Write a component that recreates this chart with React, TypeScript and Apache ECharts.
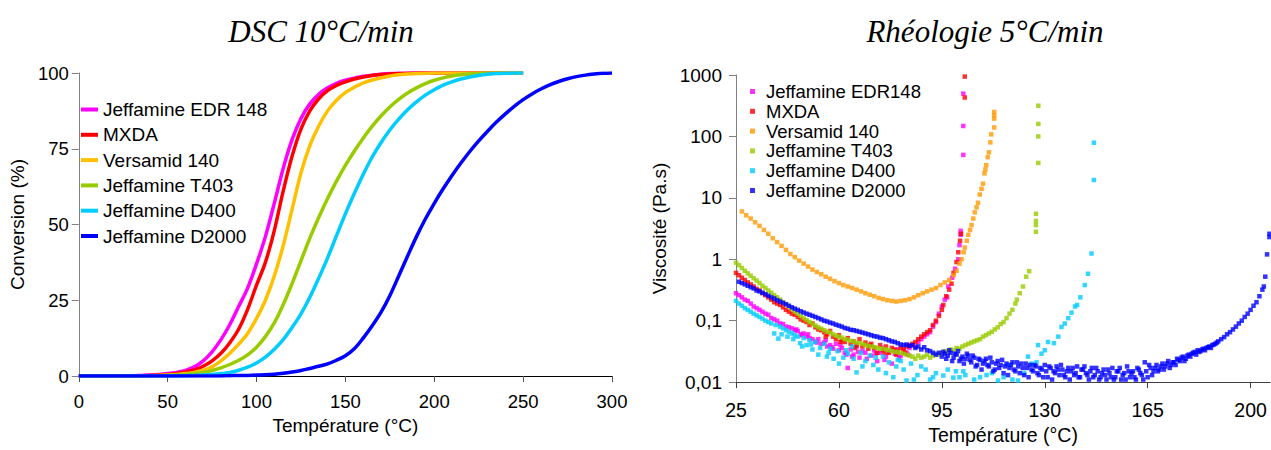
import React, { useEffect, useRef } from "react";
import * as echarts from "echarts";

// ---------- DSC (left) ----------
const dscNames = ["Jeffamine EDR 148", "MXDA", "Versamid 140", "Jeffamine T403", "Jeffamine D400", "Jeffamine D2000"];
const dscColors = ["#FF00FF", "#FF0000", "#FFC000", "#99CC00", "#00CCFF", "#0000FF"];
const dscTemps = [0, 5, 10, 15, 20, 25, 30, 35, 40, 45, 50, 55, 60, 65, 70, 75, 80, 85, 90, 95, 100, 105, 110, 115, 120, 125, 130, 135, 140, 145, 150, 155, 160, 165, 170, 175, 180, 185, 190, 195, 200, 205, 210, 215, 220, 225, 230, 235, 240, 245, 250, 255, 260, 265, 270, 275, 280, 285, 290, 295, 300];
const dscEDR148 = [0, 0, 0, 0, 0, 0.1, 0.1, 0.2, 0.3, 0.5, 0.8, 1.2, 1.8, 3, 5, 8, 12, 17, 23, 29, 37, 46, 57, 68.5, 78, 85, 89.8, 93, 95.1, 96.6, 97.6, 98.3, 98.9, 99.3, 99.6, 99.8, 99.9, 99.95, 100, 100, 100, 100, 100, 100, 100, 100, 100, 100, 100, 100, 100];
const dscMXDA = [0, 0, 0, 0, 0, 0.05, 0.1, 0.1, 0.2, 0.3, 0.5, 0.8, 1.3, 2, 3.2, 5, 7.5, 11, 15.5, 22, 30, 37.5, 48, 61, 72.5, 81.5, 87.5, 91.5, 94.2, 95.9, 97.1, 98, 98.7, 99.2, 99.5, 99.7, 99.8, 99.9, 100, 100, 100, 100, 100, 100, 100, 100, 100, 100, 100, 100, 100];
const dscVersamid = [0, 0, 0, 0, 0, 0, 0, 0, 0.1, 0.2, 0.3, 0.5, 0.8, 1.2, 1.9, 3, 5, 7.5, 10.5, 14, 19, 25, 33, 43, 55, 67, 76, 82.5, 87.5, 91, 93.5, 95.3, 96.7, 97.7, 98.4, 99, 99.4, 99.7, 99.8, 99.9, 100, 100, 100, 100, 100, 100, 100, 100, 100, 100, 100];
const dscT403 = [0, 0, 0, 0, 0, 0, 0, 0, 0, 0.1, 0.2, 0.3, 0.5, 0.8, 1.2, 1.8, 2.7, 3.8, 5.2, 7, 9.5, 13, 17.5, 23.5, 30.5, 38, 45.5, 52.3, 58.6, 64.3, 69.5, 74.2, 78.5, 82.4, 85.8, 88.8, 91.3, 93.4, 95.1, 96.5, 97.6, 98.4, 99, 99.4, 99.7, 99.85, 99.95, 100, 100, 100, 100];
const dscD400 = [0, 0, 0, 0, 0, 0, 0, 0, 0, 0, 0, 0, 0.1, 0.2, 0.3, 0.5, 0.8, 1.2, 1.9, 2.9, 4.3, 6.2, 8.8, 12, 16, 20.5, 26, 32.3, 39, 46.3, 53.5, 60.2, 66.5, 72.2, 77, 81.2, 84.8, 87.9, 90.5, 92.7, 94.5, 96, 97.1, 98, 98.7, 99.2, 99.55, 99.8, 99.92, 99.98, 100];
const dscD2000 = [0, 0, 0, 0, 0, 0, 0, 0, 0, 0, 0, 0, 0, 0, 0, 0, 0, 0.1, 0.15, 0.2, 0.3, 0.4, 0.6, 0.9, 1.3, 1.8, 2.5, 3.2, 4, 5.2, 6.7, 9, 12.5, 16.5, 21, 26.5, 33, 39.6, 46, 51.8, 57, 61.8, 66.2, 70.3, 74.1, 77.6, 80.8, 83.8, 86.5, 89, 91.2, 93.1, 94.7, 96.1, 97.2, 98.1, 98.8, 99.3, 99.65, 99.9, 100];
const dscXTicks = { min: 0, max: 300, interval: 50 };
const dscYTicks = { min: 0, max: 100, interval: 25 };

// ---------- Rheology (right) ----------
const rheoNames = ["Jeffamine EDR148", "MXDA", "Versamid 140", "Jeffamine T403", "Jeffamine D400", "Jeffamine D2000"];
const rheoColors = ["#FF00FF", "#FF0000", "#FF9900", "#99CC00", "#00CCFF", "#0000FF"];
const rheoXTicks = [25, 60, 95, 130, 165, 200];

const rheoEDR148 = [[25, 0.28], [26, 0.26], [27, 0.24], [28, 0.22], [29, 0.21], [30, 0.19], [31, 0.17], [32, 0.16], [33, 0.15], [34, 0.14], [35, 0.13], [36, 0.125], [37, 0.11], [38, 0.105], [39, 0.1], [40, 0.09], [41, 0.088], [42, 0.08], [43, 0.078], [44, 0.075], [45, 0.07], [46, 0.068], [47, 0.06], [48, 0.062], [49, 0.055], [50, 0.052], [51, 0.05], [52, 0.046], [53, 0.05], [54, 0.042], [55, 0.044], [56, 0.038], [57, 0.04], [58, 0.035], [59, 0.042], [60, 0.033], [61, 0.036], [62, 0.03], [63, 0.017], [64, 0.034], [65, 0.028], [66, 0.038], [67, 0.025], [68, 0.032], [69, 0.03], [70, 0.04], [71, 0.027], [72, 0.033], [73, 0.022], [74, 0.03], [75, 0.036], [76, 0.026], [77, 0.031], [78, 0.02], [79, 0.029], [80, 0.034], [81, 0.027], [82, 0.032], [83, 0.03], [84, 0.036], [85, 0.04], [86, 0.038], [87, 0.045], [88, 0.05], [89, 0.055], [90, 0.06], [91, 0.065], [92, 0.08], [93, 0.095], [94, 0.13], [95, 0.17], [96, 0.22], [96.8, 0.24], [97.2, 0.36], [98.5, 0.5], [99.5, 0.7], [100.6, 1.0], [101, 1.7], [101.4, 2.5], [101.4, 2.9], [102.3, 50], [102.3, 148], [102.3, 497],
  [45.5, 0.072], [47.5, 0.058], [49.5, 0.06], [52.5, 0.044], [55.5, 0.048], [57.5, 0.037], [60.5, 0.04], [62.5, 0.028], [64.5, 0.026], [66.5, 0.031], [69.5, 0.024], [72.5, 0.029], [75.5, 0.023], [78.5, 0.033], [80.5, 0.025], [83.5, 0.028]];

const rheoMXDA = [[25, 0.6], [26, 0.55], [27, 0.5], [28, 0.46], [29, 0.42], [30, 0.39], [31, 0.36], [32, 0.33], [33, 0.31], [34, 0.28], [35, 0.26], [36, 0.24], [37, 0.22], [38, 0.2], [39, 0.19], [40, 0.18], [41, 0.165], [42, 0.15], [43, 0.14], [44, 0.13], [45, 0.125], [46, 0.115], [47, 0.105], [48, 0.1], [49, 0.095], [50, 0.085], [51, 0.09], [52, 0.078], [53, 0.072], [54, 0.07], [55, 0.065], [56, 0.06], [57, 0.068], [58, 0.055], [59, 0.05], [60, 0.058], [61, 0.048], [62, 0.045], [63, 0.052], [64, 0.042], [65, 0.046], [66, 0.04], [67, 0.05], [68, 0.038], [69, 0.044], [70, 0.035], [71, 0.042], [72, 0.036], [73, 0.03], [74, 0.04], [75, 0.033], [76, 0.038], [77, 0.03], [78, 0.036], [79, 0.034], [80, 0.032], [81, 0.036], [82, 0.034], [83, 0.038], [84, 0.04], [85, 0.042], [86, 0.045], [87, 0.05], [88, 0.055], [89, 0.06], [90, 0.065], [91, 0.07], [92, 0.085], [93, 0.1], [94, 0.12], [95, 0.15], [95.5, 0.18], [96.5, 0.25], [97.5, 0.32], [98.3, 0.4], [99, 0.6], [100, 0.9], [100.6, 1.3], [101.2, 2.0], [101.5, 2.6], [102.8, 430], [102.8, 942],
  [55.5, 0.055], [60.5, 0.045], [65.5, 0.036], [70.5, 0.04], [75.5, 0.03], [79.5, 0.028], [82.5, 0.03]];

const rheoVersamid = [[27, 6.0], [28.5, 5.2], [30, 4.6], [31.5, 4.0], [33, 3.5], [34.5, 3.0], [36, 2.6], [37.5, 2.2], [39, 1.9], [40.5, 1.65], [42, 1.42], [43.5, 1.22], [45, 1.08], [46.5, 0.95], [48, 0.85], [49.5, 0.76], [51, 0.68], [52.5, 0.62], [54, 0.57], [55.5, 0.52], [57, 0.48], [58.5, 0.44], [60, 0.41], [61.5, 0.38], [63, 0.36], [64.5, 0.34], [66, 0.32], [67.5, 0.3], [69, 0.28], [70.5, 0.265], [72, 0.25], [73.5, 0.235], [75, 0.225], [76.5, 0.215], [78, 0.21], [79.5, 0.205], [81, 0.21], [82.5, 0.215], [84, 0.225], [85.5, 0.24], [87, 0.26], [88.5, 0.28], [90, 0.3], [91.5, 0.32], [93, 0.34], [94.5, 0.38], [96, 0.42], [97.5, 0.46], [99, 0.55], [100, 0.65], [101, 0.85], [101.7, 1.0], [102.4, 1.3], [102.8, 1.55], [103.5, 2.0], [104, 2.5], [104.6, 3.0], [105.1, 3.6], [105.7, 4.6], [106.2, 5.8], [106.8, 7.0], [107.3, 8.3], [107.9, 11.3], [108.5, 14], [109, 17], [109.5, 25], [109.8, 29], [110.1, 34], [110.6, 46], [111, 55], [111.5, 80], [111.8, 108], [112.8, 140], [112.8, 195], [112.8, 220], [112.8, 250]];

const rheoT403 = [[25, 0.88], [26, 0.8], [27, 0.72], [28, 0.65], [29, 0.59], [30, 0.54], [31, 0.49], [32, 0.45], [33, 0.41], [34, 0.37], [35, 0.34], [36, 0.31], [37, 0.285], [38, 0.26], [39, 0.24], [40, 0.22], [41, 0.2], [42, 0.185], [43, 0.17], [44, 0.155], [45, 0.14], [46, 0.13], [47, 0.12], [48, 0.11], [49, 0.102], [50, 0.095], [51, 0.089], [52, 0.083], [53, 0.078], [54, 0.074], [55, 0.07], [56, 0.066], [57, 0.064], [58, 0.06], [59, 0.057], [60, 0.055], [61, 0.053], [62, 0.05], [63, 0.049], [64, 0.047], [65, 0.046], [66, 0.044], [67, 0.043], [68, 0.042], [69, 0.04], [70, 0.039], [71, 0.038], [72, 0.037], [73, 0.036], [74, 0.035], [75, 0.035], [76, 0.034], [77, 0.033], [78, 0.032], [79, 0.031], [80, 0.031], [81, 0.03], [82, 0.029], [83, 0.028], [84, 0.027], [85, 0.026], [86, 0.024], [87, 0.027], [88, 0.025], [89, 0.026], [90, 0.028], [91, 0.025], [92, 0.027], [93, 0.029], [94, 0.028], [95, 0.03], [96, 0.032], [97, 0.031], [98, 0.034], [99, 0.033], [100, 0.036], [101, 0.035], [102, 0.038], [103, 0.04], [104, 0.042], [105, 0.044], [106, 0.046], [107, 0.048], [108, 0.05], [109, 0.055], [110, 0.058], [111, 0.062], [112, 0.066], [113, 0.072], [114, 0.078], [115, 0.088], [116, 0.095], [117, 0.11], [118, 0.13], [119, 0.15], [120, 0.19], [120.5, 0.22], [121.5, 0.28], [122.6, 0.36], [123.7, 0.52], [124.7, 0.64], [127, 2.8], [127, 3.6], [127, 4.2], [127, 5.5], [127.8, 37], [127.8, 100], [127.8, 160], [127.8, 316]];

const rheoD400 = [[25, 0.21], [26, 0.19], [27, 0.175], [28, 0.16], [29, 0.15], [30, 0.14], [31, 0.13], [32, 0.122], [33, 0.115], [34, 0.108], [35, 0.1], [36, 0.095], [37, 0.09], [38, 0.062], [38.5, 0.085], [39.4, 0.051], [40, 0.08], [41, 0.075], [42, 0.07], [43, 0.066], [44, 0.062], [45, 0.058], [46, 0.055], [46.8, 0.043], [48, 0.052], [49, 0.04], [50, 0.048], [51, 0.034], [52, 0.045], [53.6, 0.036], [55, 0.042], [55.9, 0.026], [57, 0.035], [58.2, 0.024], [59.5, 0.032], [61.5, 0.025], [63, 0.029], [64.5, 0.038], [66, 0.0144], [67.5, 0.03], [69, 0.022], [70.5, 0.027], [71.7, 0.019], [73.4, 0.016], [75, 0.026], [77, 0.021], [78.5, 0.012], [80, 0.023], [82, 0.016], [83, 0.0106], [84.5, 0.02], [86.7, 0.013], [88, 0.018], [91, 0.011], [93, 0.014], [95.5, 0.0128], [98.9, 0.0118], [99.8, 0.015], [102.3, 0.015], [103, 0.013], [106, 0.011], [110.2, 0.013], [114.1, 0.0106], [117.5, 0.019], [120.9, 0.0106], [124.3, 0.026], [127.2, 0.021], [127.7, 0.04], [128.9, 0.029], [130, 0.033], [131.1, 0.045], [133.1, 0.043], [134.6, 0.055], [135.7, 0.079], [136.8, 0.09], [138, 0.11], [139.1, 0.135], [140.3, 0.17], [141, 0.18], [142.1, 0.24], [143.6, 0.38], [144.7, 0.58], [145.9, 1.24], [146.7, 19.5], [146.7, 79],
  [40.5, 0.06], [42.5, 0.055], [44.5, 0.05], [47.5, 0.038], [50.5, 0.041], [53, 0.028], [56.5, 0.03], [60, 0.02], [62.5, 0.033], [65, 0.024], [68, 0.018], [72.5, 0.025], [76, 0.014], [79.5, 0.018], [81, 0.022], [85.5, 0.011], [89.5, 0.016], [92, 0.012], [97, 0.016], [101, 0.012], [108, 0.012], [112, 0.014], [116, 0.012], [119, 0.011], [123, 0.014], [125.5, 0.02]];

const rheoD2000 = [[26, 0.43], [27, 0.41], [28, 0.39], [29, 0.37], [30, 0.35], [31, 0.335], [32, 0.31], [33, 0.3], [34, 0.285], [35, 0.27], [36, 0.255], [37, 0.24], [38, 0.23], [39, 0.215], [40, 0.205], [41, 0.195], [42, 0.185], [43, 0.175], [44, 0.165], [45, 0.157], [46, 0.15], [47, 0.142], [48, 0.136], [49, 0.13], [50, 0.125], [51, 0.12], [52, 0.115], [53, 0.11], [54, 0.105], [55, 0.1], [56, 0.097], [57, 0.093], [58, 0.09], [59, 0.086], [60, 0.083], [61, 0.08], [62, 0.076], [63, 0.074], [64, 0.071], [65, 0.07], [66, 0.068], [67, 0.066], [68, 0.064], [69, 0.062], [70, 0.06], [71, 0.058], [72, 0.056], [73, 0.055], [74, 0.053], [75, 0.052], [76, 0.05], [77, 0.048], [78, 0.046], [79, 0.045], [80, 0.043], [81, 0.041], [82, 0.04], [83, 0.041], [84, 0.039], [85, 0.04], [86, 0.036], [87, 0.038], [88, 0.034], [89, 0.037], [90, 0.033], [91, 0.032], [92, 0.03], [93, 0.028], [94, 0.03], [95, 0.026], [96, 0.029], [97, 0.027], [98, 0.03], [99, 0.025], [100, 0.028], [101, 0.022], [102, 0.026], [103, 0.024], [104, 0.027], [105, 0.021], [106, 0.025], [107, 0.019], [108, 0.023], [109, 0.02], [110, 0.024], [111, 0.018], [112, 0.021], [113, 0.016], [114, 0.022], [115, 0.019], [116, 0.014], [117, 0.02], [118, 0.017], [119, 0.021], [120, 0.015], [121, 0.018], [122, 0.02], [123, 0.013], [124, 0.017], [125, 0.019], [126, 0.015], [127, 0.018], [128, 0.013], [129, 0.016], [130, 0.019], [131, 0.012], [132, 0.017], [133, 0.015], [134, 0.018], [135, 0.013], [136, 0.016], [137, 0.012], [138, 0.017], [139, 0.015], [140, 0.013], [141, 0.018], [142, 0.012], [143, 0.016], [144, 0.014], [145, 0.011], [146, 0.017], [147, 0.013], [148, 0.015], [149, 0.012], [150, 0.016], [151, 0.011], [152, 0.014], [153, 0.017], [154, 0.012], [155, 0.015], [156, 0.011], [157, 0.014], [158, 0.018], [159, 0.012], [160, 0.015], [161, 0.011], [162, 0.016], [163, 0.013], [164, 0.021], [165, 0.012], [166, 0.017], [167, 0.015], [168, 0.019], [169, 0.016], [170, 0.02], [171, 0.018], [172, 0.022], [173, 0.019], [174, 0.021], [175, 0.024], [176, 0.022], [177, 0.026], [178, 0.024], [179, 0.028], [180, 0.029], [181, 0.031], [182, 0.033], [183, 0.032], [184, 0.035], [185, 0.036], [186, 0.038], [187, 0.04], [188, 0.042], [189, 0.046], [190, 0.05], [191, 0.054], [192, 0.06], [193, 0.065], [194, 0.072], [195, 0.08], [196, 0.09], [197, 0.1], [198, 0.115], [199, 0.13], [200, 0.15], [201, 0.175], [202, 0.2], [203, 0.25], [204, 0.32], [204.5, 0.36], [205, 0.52], [205.6, 1.2], [206.4, 2.3], [206.4, 2.6],
  [95.5, 0.031], [96.5, 0.024], [97.5, 0.033], [98.5, 0.022], [99.5, 0.029], [100.5, 0.032], [101.5, 0.024], [102.5, 0.02], [103.5, 0.029], [104.5, 0.023], [105.5, 0.027], [106.5, 0.018], [107.5, 0.024], [108.5, 0.016], [109.5, 0.022], [110.5, 0.019], [111.5, 0.025], [112.5, 0.015], [113.5, 0.02], [114.5, 0.017], [115.5, 0.023], [116.5, 0.018], [117.5, 0.013], [118.5, 0.019], [119.5, 0.016], [120.5, 0.021], [121.5, 0.014], [122.5, 0.017], [123.5, 0.02], [124.5, 0.012], [125.5, 0.016], [126.5, 0.019], [127.5, 0.014], [128.5, 0.017], [129.5, 0.012], [130.5, 0.015], [131.5, 0.018], [132.5, 0.011], [133.5, 0.014], [134.5, 0.016], [135.5, 0.019], [136.5, 0.013], [137.5, 0.015], [138.5, 0.011], [139.5, 0.017], [140.5, 0.014], [141.5, 0.012], [142.5, 0.016], [143.5, 0.018], [144.5, 0.013], [145.5, 0.015], [146.5, 0.012], [147.5, 0.017], [148.5, 0.011], [149.5, 0.014], [150.5, 0.013], [151.5, 0.016], [152.5, 0.012], [153.5, 0.011], [154.5, 0.015], [155.5, 0.017], [156.5, 0.013], [157.5, 0.011], [158.5, 0.015], [159.5, 0.014], [160.5, 0.012], [161.5, 0.017], [162.5, 0.014], [163.5, 0.011], [164.5, 0.015], [165.5, 0.019], [166.5, 0.013], [167.5, 0.017], [168.5, 0.015], [169.5, 0.018], [170.5, 0.016], [171.5, 0.02], [172.5, 0.017], [173.5, 0.021], [174.5, 0.019], [175.5, 0.023], [176.5, 0.025], [177.5, 0.022], [178.5, 0.027], [179.5, 0.026], [180.5, 0.03], [181.5, 0.028], [182.5, 0.031], [183.5, 0.034], [184.5, 0.033], [185.5, 0.037], [186.5, 0.036], [187.5, 0.041], [188.5, 0.044]];

const dscSeriesValues = [dscEDR148, dscMXDA, dscVersamid, dscT403, dscD400, dscD2000];
const rheoSeriesValues = [rheoEDR148, rheoMXDA, rheoVersamid, rheoT403, rheoD400, rheoD2000];

const SANS = "Liberation Sans, Arial, sans-serif";
const SERIF = "Liberation Serif, Times New Roman, serif";

function fmtComma(v: number): string {
  if (v < 0.05) return "0,01";
  if (v < 0.5) return "0,1";
  return String(Math.round(v));
}

function dscOption(): any {
  return {
    animation: false,
    graphic: [
      {
        type: "text",
        x: 321,
        y: 31,
        style: { text: "DSC 10°C/min", font: `italic 31px ${SERIF}`, fill: "#000", textAlign: "center", textVerticalAlign: "middle" },
      },
    ],
    grid: { left: 77, top: 73, width: 535, height: 303 },
    legend: {
      orient: "vertical",
      left: 76,
      top: 95,
      itemWidth: 17,
      itemHeight: 4,
      itemGap: 6.3,
      icon: "rect",
      textStyle: { fontSize: 19, lineHeight: 19, fontFamily: SANS, color: "#000" },
      data: dscNames,
    },
    xAxis: {
      type: "value",
      min: dscXTicks.min,
      max: dscXTicks.max,
      interval: dscXTicks.interval,
      axisLine: { lineStyle: { color: "#000", width: 1 } },
      axisTick: { show: true, length: 6, lineStyle: { color: "#555" } },
      axisLabel: { fontSize: 18.5, fontFamily: SANS, color: "#000", margin: 16 },
      splitLine: { show: false },
      name: "Température (°C)",
      nameLocation: "middle",
      nameGap: 40,
      nameTextStyle: { fontSize: 19, fontFamily: SANS, color: "#000" },
    },
    yAxis: {
      type: "value",
      min: dscYTicks.min,
      max: dscYTicks.max,
      interval: dscYTicks.interval,
      axisLine: { show: true, lineStyle: { color: "#808080", width: 1 } },
      axisTick: { show: true, length: 7, lineStyle: { color: "#808080" } },
      axisLabel: { fontSize: 18.5, fontFamily: SANS, color: "#000", margin: 10 },
      splitLine: { show: false },
      name: "Conversion (%)",
      nameLocation: "middle",
      nameGap: 46,
      nameTextStyle: { fontSize: 19, fontFamily: SANS, color: "#000" },
    },
    series: dscNames.map((name, k) => ({
      name,
      type: "line",
      showSymbol: false,
      smooth: 0.35,
      color: dscColors[k],
      lineStyle: { width: 3.5, color: dscColors[k] },
      data: dscSeriesValues[k].map((v, i) => [dscTemps[i], v]),
    })),
  };
}

function rheoOption(): any {
  return {
    animation: false,
    graphic: [
      {
        type: "text",
        x: 345,
        y: 31,
        style: { text: "Rhéologie 5°C/min", font: `italic 31px ${SERIF}`, fill: "#000", textAlign: "center", textVerticalAlign: "middle" },
      },
    ],
    grid: { left: 96, top: 75, width: 534, height: 317 },
    legend: {
      orient: "vertical",
      left: 105,
      top: 77,
      itemWidth: 17,
      itemHeight: 5,
      itemGap: 0.8,
      icon: "path://M0,0h1v1h-1z",
      symbolKeepAspect: true,
      textStyle: { fontSize: 18.5, lineHeight: 18.5, fontFamily: SANS, color: "#000" },
      data: rheoNames,
    },
    xAxis: {
      type: "value",
      min: 25,
      max: 206.6,
      axisLine: { lineStyle: { color: "#404040", width: 1 } },
      axisTick: { show: true, length: 6, lineStyle: { color: "#404040" }, customValues: rheoXTicks },
      axisLabel: { fontSize: 19.5, fontFamily: SANS, color: "#000", margin: 18, customValues: rheoXTicks },
      splitLine: { show: false },
      name: "Température (°C)",
      nameLocation: "middle",
      nameGap: 39,
      nameTextStyle: { fontSize: 19.5, fontFamily: SANS, color: "#000" },
    },
    yAxis: {
      type: "log",
      logBase: 10,
      min: 0.01,
      max: 1000,
      axisLine: { show: true, lineStyle: { color: "#808080", width: 1 } },
      axisTick: { show: true, length: 7, lineStyle: { color: "#808080" } },
      minorTick: { show: false },
      axisLabel: { fontSize: 19, fontFamily: SANS, color: "#000", margin: 14, formatter: (v: number) => fmtComma(v) },
      splitLine: { show: false },
      name: "Viscosité (Pa.s)",
      nameLocation: "middle",
      nameGap: 53,
      nameTextStyle: { fontSize: 19, fontFamily: SANS, color: "#000" },
    },
    series: rheoNames.map((name, k) => ({
      name,
      type: "scatter",
      symbol: "rect",
      symbolSize: 4.5,
      color: rheoColors[k],
      itemStyle: { color: rheoColors[k] },
      data: rheoSeriesValues[k],
    })),
  };
}

export default function App() {
  const leftRef = useRef<HTMLDivElement>(null);
  const rightRef = useRef<HTMLDivElement>(null);

  useEffect(() => {
    if (!leftRef.current || !rightRef.current) return;
    const left = echarts.init(leftRef.current, undefined, { renderer: "svg" });
    const right = echarts.init(rightRef.current, undefined, { renderer: "svg" });
    left.setOption(dscOption());
    right.setOption(rheoOption());
    return () => {
      left.dispose();
      right.dispose();
    };
  }, []);

  return (
    <div style={{ position: "fixed", left: 0, top: 0, width: 1271, height: 450, background: "#fff" }}>
      <div ref={leftRef} style={{ position: "absolute", left: 0, top: 0, width: 640, height: 450 }} />
      <div ref={rightRef} style={{ position: "absolute", left: 640, top: 0, width: 631, height: 450 }} />
    </div>
  );
}
